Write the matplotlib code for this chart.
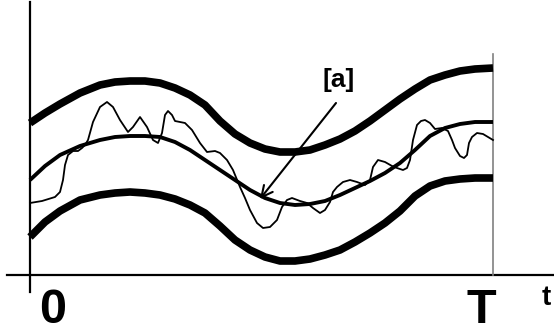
import matplotlib.pyplot as plt

# curves, in pixel coords (y grows downwards)
upper_x = [30, 45, 60, 80, 100, 115, 130, 145, 160, 175, 190, 205, 220, 235, 250, 265,
           280, 295, 310, 325, 340, 355, 370, 385, 400, 415, 430, 445, 460, 475, 493]
upper_y = [123, 113, 104, 93, 85, 82, 81, 81, 83, 88, 95, 105, 121, 134, 143, 149,
           152, 152, 150, 145, 139, 131, 121, 110, 99, 89, 80, 75, 71, 69, 68]

middle_x = upper_x
middle_y = [180, 166, 155, 146, 140, 137, 136, 136, 137, 142, 150, 160, 170, 180, 190, 198,
            203, 205, 204, 201, 195, 188, 181, 173, 163, 150, 136, 128, 124, 122, 122]

lower_x = upper_x
lower_y = [237, 222, 211, 200, 195, 193, 192, 193, 195, 199, 205, 213, 226, 240, 250, 257,
           261, 261, 259, 255, 250, 242, 233, 223, 211, 196, 186, 181, 179, 178, 178]

noisy_x = [30, 42, 55, 60, 63, 65, 68, 73, 78, 82, 85, 88, 93, 100, 107, 113, 120, 128,
           133, 140, 147, 153, 158, 162, 165, 168, 172, 175, 185, 192, 200, 207, 215, 220,
           227, 233, 240, 245, 250, 257, 263, 270, 277, 282, 287, 292, 300, 307, 313, 320,
           325, 330, 333, 337, 343, 350, 357, 365, 370, 373, 378, 385, 392, 397, 403, 407,
           410, 413, 417, 421, 425, 430, 435, 442, 448, 452, 455, 460, 464, 467, 469, 472,
           477, 483, 488, 493]
noisy_y = [203, 201, 197, 192, 180, 165, 155, 151, 151, 148, 145, 140, 122, 107, 102, 107,
           120, 132, 127, 117, 127, 140, 143, 133, 115, 111, 115, 121, 123, 130, 143, 152,
           151, 153, 160, 170, 187, 198, 210, 223, 228, 227, 220, 207, 200, 198, 201, 203,
           208, 213, 210, 202, 192, 187, 182, 180, 182, 185, 180, 167, 160, 162, 166, 168,
           170, 168, 160, 140, 125, 121, 120, 123, 129, 128, 131, 140, 148, 156, 158, 155,
           143, 137, 133, 134, 137, 140]

fig = plt.figure(figsize=(5.54, 3.26), dpi=100)
ax = fig.add_axes([0, 0, 1, 1])
ax.set_xlim(0, 554)
ax.set_ylim(326, 0)
ax.axis('off')

# axes of the sketch
ax.plot([30, 30], [2, 292], color='black', lw=1.6)
ax.plot([7, 554], [275, 275], color='black', lw=1.6)
ax.plot([493, 493], [54, 275], color='#808080', lw=1.2)

ax.plot(upper_x, upper_y, color='black', lw=5.5, solid_capstyle='butt', solid_joinstyle='round')
ax.plot(lower_x, lower_y, color='black', lw=5.5, solid_capstyle='butt', solid_joinstyle='round')
ax.plot(middle_x, middle_y, color='black', lw=2.8, solid_capstyle='butt', solid_joinstyle='round')
ax.plot(noisy_x, noisy_y, color='black', lw=1.3, solid_joinstyle='round')

ax.annotate('', xy=(260, 199), xytext=(336, 103),
            arrowprops=dict(arrowstyle='->', lw=1.5, mutation_scale=20, color='black',
                            shrinkA=0, shrinkB=0))

font = dict(family='Liberation Sans', weight='bold', color='black')
ax.text(338.5, 86.5, '[a]', fontsize=19, ha='center', va='baseline', **font)
ax.text(53, 323, '0', fontsize=35, ha='center', va='baseline', **font)
ax.text(481, 323, 'T', fontsize=35, ha='center', va='baseline', **font)
ax.text(542, 305, 't', fontsize=20, ha='left', va='baseline', **font)

fig.savefig('out.png', dpi=100)
